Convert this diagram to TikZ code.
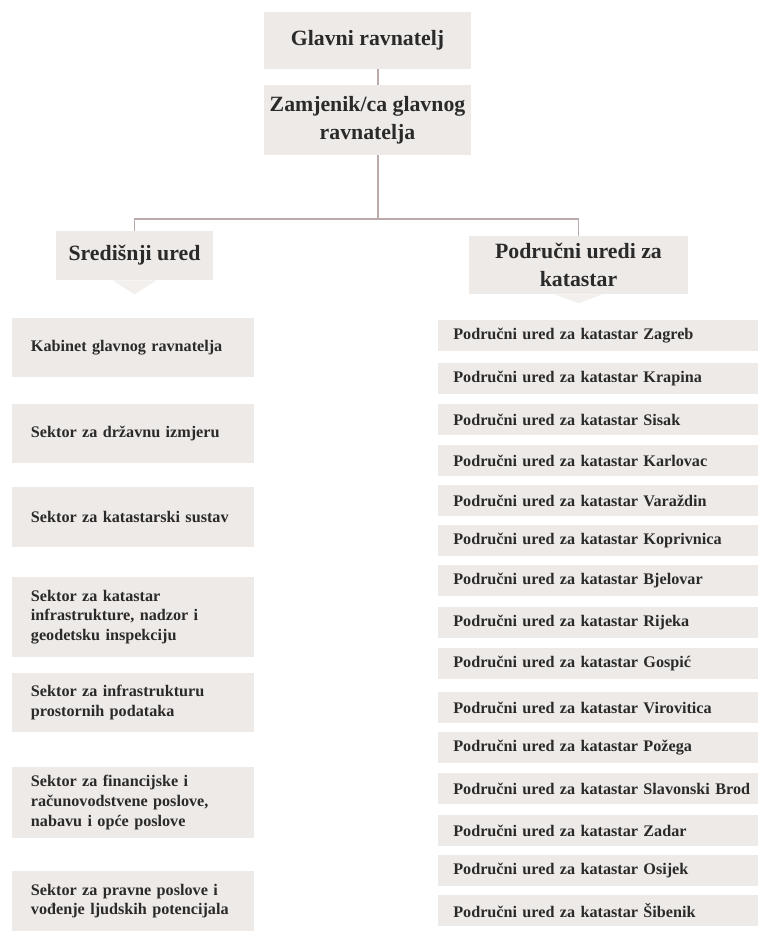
\documentclass[tikz,border=0pt]{standalone}
\usepackage{fontspec}
\setmainfont{Liberation Serif}
\usetikzlibrary{positioning}

\definecolor{boxgrey}{HTML}{EEEAE7}
\definecolor{chevgrey}{HTML}{F2EFEC}
\definecolor{linegrey}{HTML}{BBAAAA}
\definecolor{textgrey}{HTML}{2A2A2A}

\newcommand{\orghead}{\fontsize{15.5}{20}\selectfont\bfseries}
\newcommand{\orgitem}{\fontsize{11.5}{13.9}\selectfont\bfseries}

\tikzset{
  headbox/.style={fill=boxgrey, text=textgrey, font=\orghead, align=center, inner sep=0pt},
  leftbox/.style={fill=boxgrey, text=textgrey, font=\orgitem, text width=5.1cm, align=left, inner xsep=0.475cm, inner ysep=0pt},
  rightbox/.style={fill=boxgrey, text=textgrey, font=\orgitem, anchor=west, text width=7.6cm, align=left, inner xsep=0.375cm, inner ysep=0pt, minimum height=0.775cm},
  orgline/.style={draw=linegrey, line width=0.85pt}
}

\begin{document}
\begin{tikzpicture}[x=0.025cm, y=-0.025cm]
        \useasboundingbox (0,0) rectangle (757,931);

        % top
        \node [headbox, minimum width=5.175cm, minimum height=1.425cm] (glavni) at (367.5,40.5) {Glavni ravnatelj};
        \node [headbox, minimum width=5.175cm, minimum height=1.75cm] (zamjenik) at (367.5,120) {Zamjenik/ca glavnog\\ravnatelja};
        \coordinate (split) at (378,219);

        \node [headbox, minimum width=3.925cm, minimum height=1.225cm] (sredisnji) at (134.5,255.5) {Središnji ured};
        \node [headbox, minimum width=5.475cm, minimum height=1.45cm] (podrucni) at (578.5,265) {Područni uredi za\\katastar};

        \fill [chevgrey] ([xshift=-0.55cm]sredisnji.south) -- ([yshift=-0.35cm]sredisnji.south) -- ([xshift=0.55cm]sredisnji.south) -- cycle;
        \fill [chevgrey] ([xshift=-0.6cm]podrucni.south) -- ([yshift=-0.22cm]podrucni.south) -- ([xshift=0.6cm]podrucni.south) -- cycle;

        \draw [orgline] (glavni.south -| split) -- (zamjenik.north -| split);
        \draw [orgline] (zamjenik.south -| split) -- (split);
        \draw [orgline] (sredisnji.north) -- (sredisnji.north |- split) -- (podrucni.north |- split) -- (podrucni.north);

        % sredisnji ured
        \node [leftbox, minimum height=1.475cm] (kabinet) at (133,347.5) {Kabinet glavnog ravnatelja};
        \node [leftbox, minimum height=1.475cm] (izmjera) at (133,433.5) {Sektor za državnu izmjeru};
        \node [leftbox, minimum height=1.5cm] (sustav) at (133,517) {Sektor za katastarski sustav};
        \node [leftbox, minimum height=2cm] (nadzor) at (133,617) {Sektor za katastar\\infrastrukture, nadzor i\\geodetsku inspekciju};
        \node [leftbox, minimum height=1.475cm] (prostor) at (133,702.5) {Sektor za infrastrukturu\\prostornih podataka};
        \node [leftbox, minimum height=1.775cm] (financije) at (133,802.5) {Sektor za financijske i\\računovodstvene poslove,\\nabavu i opće poslove};
        \node [leftbox, minimum height=1.5cm] (pravni) at (133,901) {Sektor za pravne poslove i\\vođenje ljudskih potencijala};

        % podrucni uredi
        \node [rightbox] (zagreb) at (438,335.5) {Područni ured za katastar Zagreb};
        \node [rightbox] (krapina) at (438,378.5) {Područni ured za katastar Krapina};
        \node [rightbox] (sisak) at (438,419.5) {Područni ured za katastar Sisak};
        \node [rightbox] (karlovac) at (438,460.5) {Područni ured za katastar Karlovac};
        \node [rightbox] (varazdin) at (438,500.5) {Područni ured za katastar Varaždin};
        \node [rightbox] (koprivnica) at (438,540.5) {Područni ured za katastar Koprivnica};
        \node [rightbox] (bjelovar) at (438,580.5) {Područni ured za katastar Bjelovar};
        \node [rightbox] (rijeka) at (438,622.5) {Područni ured za katastar Rijeka};
        \node [rightbox] (gospic) at (438,663.5) {Područni ured za katastar Gospić};
        \node [rightbox] (virovitica) at (438,707.5) {Područni ured za katastar Virovitica};
        \node [rightbox] (pozega) at (438,747.5) {Područni ured za katastar Požega};
        \node [rightbox] (slavonski) at (438,788.5) {Područni ured za katastar Slavonski Brod};
        \node [rightbox] (zadar) at (438,830.5) {Područni ured za katastar Zadar};
        \node [rightbox] (osijek) at (438,870.5) {Područni ured za katastar Osijek};
        \node [rightbox] (sibenik) at (438,910.5) {Područni ured za katastar Šibenik};
    \end{tikzpicture}
\end{document}
